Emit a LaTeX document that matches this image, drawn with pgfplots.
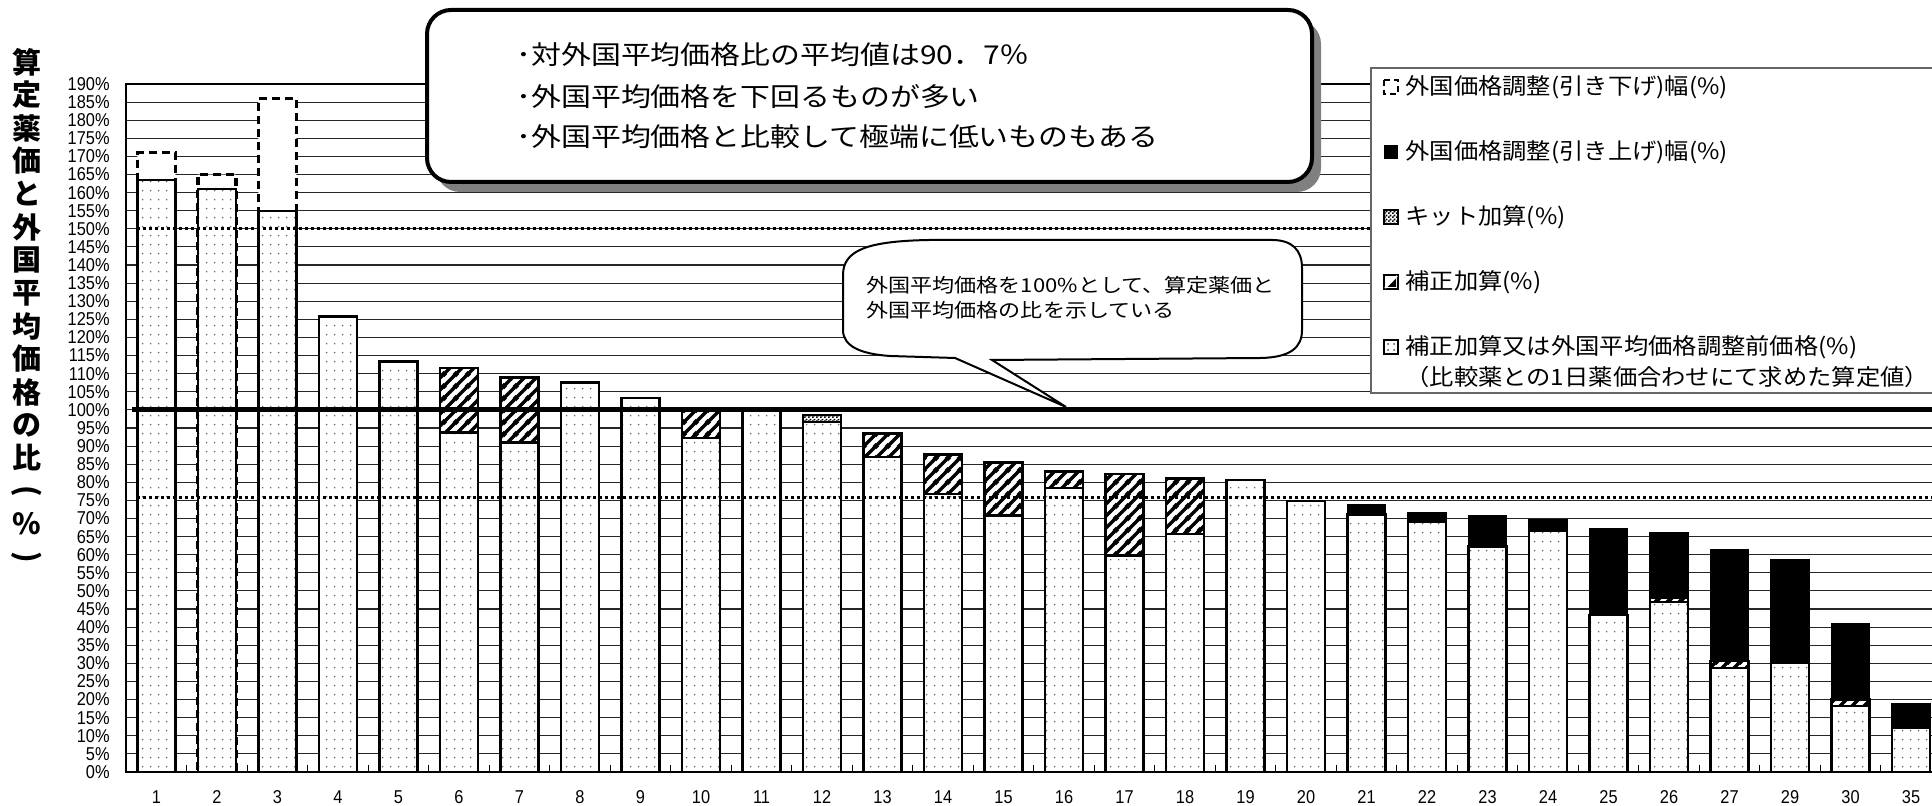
\documentclass[border=0pt]{standalone}
\usepackage{fontspec}
\setmainfont{Liberation Sans}
\newfontfamily\tickfont{Liberation Sans}[FakeStretch=0.88]
\newfontfamily\jp{Noto Sans CJK JP}[FakeStretch=1.15]
\newfontfamily\jpl{Noto Sans CJK JP}[FakeStretch=1.08]
\newfontfamily\jpv{Noto Sans CJK JP}
\usepackage{pgfplots}
\pgfplotsset{compat=1.18}
\usetikzlibrary{patterns.meta}

\tikzdeclarepattern{
  name=basedots, type=colored,
  bottom left={(0pt,0pt)}, top right={(4.1pt,4.4pt)}, tile size={(4.1pt,4.4pt)},
  code={\fill[black!60] (2pt,2.2pt) circle (0.45pt);}
}
\tikzdeclarepattern{
  name=hatchne, type=uncolored,
  bottom left={(0pt,0pt)}, top right={(6pt,6pt)}, tile size={(6pt,6pt)},
  code={\draw[line width=1.9pt] (-1pt,-1pt) -- (7pt,7pt) (-1pt,5pt) -- (1pt,7pt) (5pt,-1pt) -- (7pt,1pt);}
}
\tikzdeclarepattern{
  name=checks, type=uncolored,
  bottom left={(0pt,0pt)}, top right={(2pt,2pt)}, tile size={(2pt,2pt)},
  code={\fill (0pt,0pt) rectangle (1pt,1pt) (1pt,1pt) rectangle (2pt,2pt);}
}

\newcommand\tickf{\tickfont\fontsize{9.3pt}{9.3pt}\selectfont}
\newcommand\bigf{\jp\fontsize{13pt}{13pt}\selectfont}
\newcommand\legf{\jpl\fontsize{11.25pt}{11.25pt}\selectfont}
\newcommand\smallf{\jp\fontsize{9.6pt}{9.6pt}\selectfont}
\newcommand\ylabf{\jpv\bfseries\fontsize{14.5pt}{14.5pt}\selectfont}

\begin{document}
\begin{tikzpicture}
\begin{axis}[
  at={(63pt,17pt)}, anchor=south west,
  scale only axis, width=917pt, height=344pt,
  xmin=0.496, xmax=30.81, ymin=0, ymax=190,
  ybar, bar width=19pt,
  ytick={0,5,...,190},
  yticklabel={\pgfmathprintnumber[assume math mode=true]{\tick}\%},
  yticklabel style={font=\tickf, inner sep=0pt, xshift=-8pt},
  xtick={1,...,30},
  xticklabels={1,2,3,4,5,6,7,8,9,10,11,12,13,14,15,16,17,18,19,20,21,22,23,24,25,26,27,29,30,35},
  xticklabel style={font=\tickf, inner sep=0pt, yshift=-9pt},
  minor xtick={1.5,2.5,...,29.5},
  major tick length=0pt, minor tick length=3.3pt, tick align=inside,
  xtick pos=bottom, ytick pos=left,
  tick style={black, line width=0.6pt},
  ymajorgrids, major grid style={black!85, line width=0.55pt},
  axis line style={line width=1.2pt},
]
% down adjustment (dashed), top of bar
\addplot[bar shift=0pt, fill=white, draw=black, line width=1.6pt, dash pattern=on 4pt off 2.5pt]
  coordinates {(1,171) (2,165) (3,186)};
% up adjustment (black), top of bar
\addplot[bar shift=0pt, fill=black, draw=black, line width=0.6pt]
  coordinates {(21,73.8) (22,71.5) (23,70.9) (24,69.7) (25,67.1) (26,66.2) (27,61.4) (28,58.6) (29,40.9) (30,18.8)};
% kit addition, top
\addplot[bar shift=0pt, draw=black, line width=1.2pt, preaction={fill=white}, pattern=checks, pattern color=black]
  coordinates {(12,98.6)};
% correction addition, top
\addplot[bar shift=0pt, draw=black, line width=1.2pt, preaction={fill=white}, pattern=hatchne, pattern color=black]
  coordinates {(6,111.5) (7,108.9) (10,100.6) (13,93.5) (14,87.7) (15,85.5) (16,83.0) (17,82.3) (18,81.0) (26,48.0) (27,30.6) (29,20.0)};
% base price
\addplot[bar shift=0pt, draw=black, line width=1.2pt, preaction={fill=white}, pattern=basedots]
  coordinates {(1,163.5) (2,161) (3,155) (4,125.8) (5,113.4) (6,93.7) (7,91.0) (8,107.6) (9,103.2) (10,92.2) (11,100) (12,96.6) (13,87.0) (14,76.8) (15,70.8) (16,78.5) (17,59.8) (18,65.8) (19,80.6) (20,74.9) (21,71.1) (22,69.2) (23,62.3) (24,66.7) (25,43.3) (26,46.9) (27,28.8) (28,30.1) (29,18.2) (30,12.2)};
\draw[line width=2.6pt] (axis cs:0.6,100) -- (axis cs:31,100);
\draw[line width=1.5pt, dash pattern=on 1.5pt off 1.5pt] (axis cs:0.68,150) -- (axis cs:31,150);
\draw[line width=1.5pt, dash pattern=on 1.5pt off 1.5pt] (axis cs:0.68,75.8) -- (axis cs:31,75.8);
\end{axis}

\begin{scope}[shift={(0,403pt)}, x=0.5pt, y=-0.5pt]
  % vertical y label
  \foreach \c [count=\k from 0] in {算,定,薬,価,と,外,国,平,均,価,格,の,比}
    \node[inner sep=0pt, font=\ylabf] at (27,{62+33*\k}) {\c};
  \node[inner sep=0pt, font=\ylabf, rotate=-90] at (27,491) {(};
  \node[inner sep=0pt, font=\ylabf] at (27,524) {\%};
  \node[inner sep=0pt, font=\ylabf, rotate=-90] at (27,557) {)};
  % big callout
  \fill[black!50, rounded corners=12pt] (436,20) rectangle (1321,192);
  \draw[line width=2pt, fill=white, rounded corners=12pt] (427,10) rectangle (1312,182);
  \node[anchor=west, inner sep=0pt, font=\bigf] at (516,55) {･対外国平均価格比の平均値は90．7％};
  \node[anchor=west, inner sep=0pt, font=\bigf] at (516,97) {･外国平均価格を下回るものが多い};
  \node[anchor=west, inner sep=0pt, font=\bigf] at (516,137) {･外国平均価格と比較して極端に低いものもある};
  % legend
  \draw[black!60, line width=0.6pt, fill=white] (1371,68) rectangle (1990,393);
  % marker 1: dashed square
  \draw[line width=1.2pt, dash pattern=on 3pt off 2pt, fill=white] (1384,80) rectangle (1398,94);
  % marker 2: black
  \fill (1384,145) rectangle (1398,159);
  % marker 3: checks
  \draw[line width=0.9pt, pattern=checks, pattern color=black] (1384,210) rectangle (1398,224);
  % marker 4: hatch
  \draw[line width=0.9pt, fill=white] (1384,275) rectangle (1398,289);
  \fill (1386,287) -- (1396,287) -- (1396,277) -- cycle;
  \draw[white, line width=1pt] (1385,288) -- (1397,276);
  % marker 5: dots
  \draw[line width=0.9pt, fill=white] (1384,340) rectangle (1398,354);
  \foreach \dx/\dy in {1388/344,1394/344,1388/350,1394/350}
    \fill[black!70] (\dx,\dy) circle (0.5pt);
  \node[anchor=west, inner sep=0pt, font=\legf] at (1405,87) {外国価格調整(引き下げ)幅(\%)};
  \node[anchor=west, inner sep=0pt, font=\legf] at (1405,152) {外国価格調整(引き上げ)幅(\%)};
  \node[anchor=west, inner sep=0pt, font=\legf] at (1405,217) {キット加算(\%)};
  \node[anchor=west, inner sep=0pt, font=\legf] at (1405,282) {補正加算(\%)};
  \node[anchor=west, inner sep=0pt, font=\legf] at (1405,347) {補正加算又は外国平均価格調整前価格(\%)};
  \node[anchor=west, inner sep=0pt, font=\legf] at (1405,377) {（比較薬との1日薬価合わせにて求めた算定値）};
  % small callout
  \draw[line width=1pt, fill=white] (843,330) -- (843,275) .. controls (843,250) and (868,241) .. (930,240)
    -- (1272,240) .. controls (1292,240) and (1302,250) .. (1302,268) -- (1302,330)
    .. controls (1302,348) and (1290,357) .. (1262,358) -- (992,360) -- (1066,407) -- (955,358)
    -- (890,356) .. controls (860,354) and (843,346) .. (843,330) -- cycle;
  \node[anchor=west, inner sep=0pt, font=\smallf] at (866,285) {外国平均価格を100\%として、算定薬価と};
  \node[anchor=west, inner sep=0pt, font=\smallf] at (866,310) {外国平均価格の比を示している};
\end{scope}
\pgfresetboundingbox
\path[use as bounding box] (0,0) rectangle (966pt,403pt);
\end{tikzpicture}
\end{document}
